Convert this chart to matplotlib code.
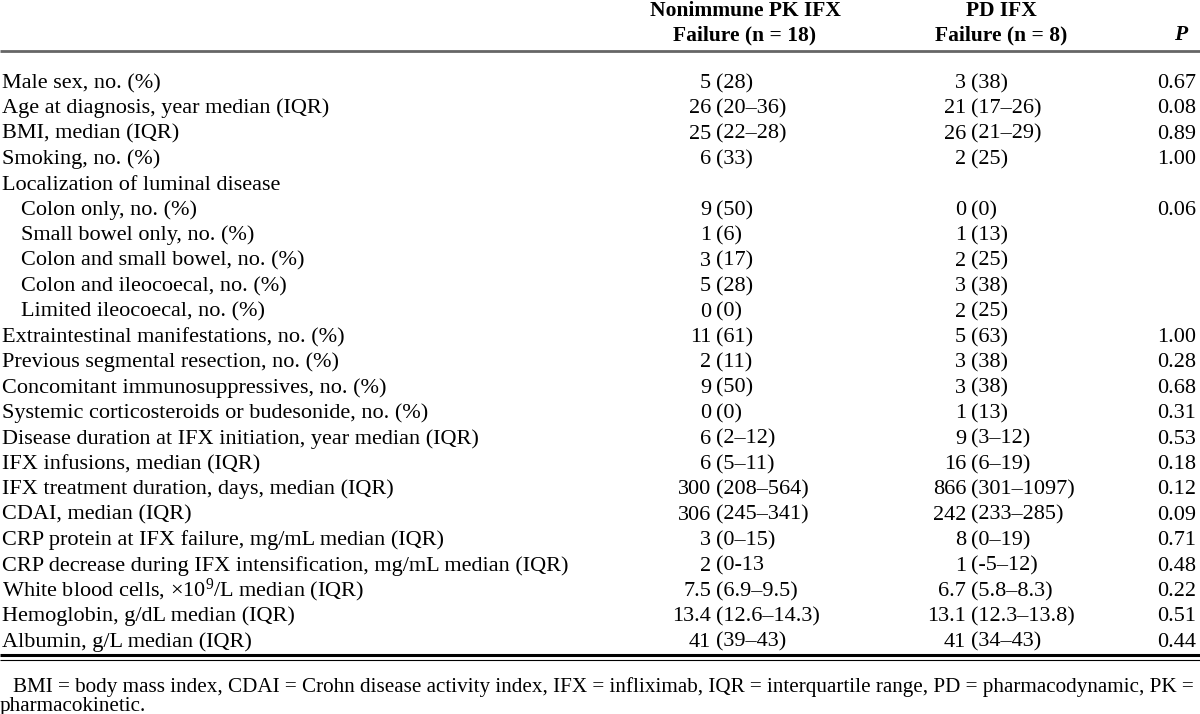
import matplotlib
matplotlib.use("Agg")
import matplotlib.pyplot as plt

plt.rcParams['font.family'] = ['Liberation Serif', 'DejaVu Serif']
plt.rcParams['mathtext.fontset'] = 'custom'
plt.rcParams['mathtext.rm'] = 'Liberation Serif'
plt.rcParams['mathtext.it'] = 'Liberation Serif:italic'

# table content
header_col1 = ["Nonimmune PK IFX", "Failure (n = 18)"]
header_col2 = ["PD IFX", "Failure (n = 8)"]
header_p = "P"

labels = [
    "Male sex, no. (%)",
    "Age at diagnosis, year median (IQR)",
    "BMI, median (IQR)",
    "Smoking, no. (%)",
    "Localization of luminal disease",
    "Colon only, no. (%)",
    "Small bowel only, no. (%)",
    "Colon and small bowel, no. (%)",
    "Colon and ileocoecal, no. (%)",
    "Limited ileocoecal, no. (%)",
    "Extraintestinal manifestations, no. (%)",
    "Previous segmental resection, no. (%)",
    "Concomitant immunosuppressives, no. (%)",
    "Systemic corticosteroids or budesonide, no. (%)",
    "Disease duration at IFX initiation, year median (IQR)",
    "IFX infusions, median (IQR)",
    "IFX treatment duration, days, median (IQR)",
    "CDAI, median (IQR)",
    "CRP protein at IFX failure, mg/mL median (IQR)",
    "CRP decrease during IFX intensification, mg/mL median (IQR)",
    r"White blood cells, $\times$10$^{9}$/L median (IQR)",
    "Hemoglobin, g/dL median (IQR)",
    "Albumin, g/L median (IQR)",
]
indented = [False, False, False, False, False, True, True, True, True, True,
            False, False, False, False, False, False, False, False, False,
            False, False, False, False]

col1 = ["5 (28)", "26 (20–36)", "25 (22–28)", "6 (33)", "",
        "9 (50)", "1 (6)", "3 (17)", "5 (28)", "0 (0)",
        "11 (61)", "2 (11)", "9 (50)", "0 (0)", "6 (2–12)",
        "6 (5–11)", "300 (208–564)", "306 (245–341)", "3 (0–15)", "2 (0-13",
        "7.5 (6.9–9.5)", "13.4 (12.6–14.3)", "41 (39–43)"]
col2 = ["3 (38)", "21 (17–26)", "26 (21–29)", "2 (25)", "",
        "0 (0)", "1 (13)", "2 (25)", "3 (38)", "2 (25)",
        "5 (63)", "3 (38)", "3 (38)", "1 (13)", "9 (3–12)",
        "16 (6–19)", "866 (301–1097)", "242 (233–285)", "8 (0–19)", "1 (-5–12)",
        "6.7 (5.8–8.3)", "13.1 (12.3–13.8)", "41 (34–43)"]
pvals = ["0.67", "0.08", "0.89", "1.00", "",
         "0.06", "", "", "", "",
         "1.00", "0.28", "0.68", "0.31", "0.53",
         "0.18", "0.12", "0.09", "0.71", "0.48",
         "0.22", "0.51", "0.44"]

footnote_1 = ("BMI = body mass index, CDAI = Crohn disease activity index, IFX = infliximab, "
              "IQR = interquartile range, PD = pharmacodynamic, PK =")
footnote_2 = "pharmacokinetic."

W, H = 1200, 714
fs = 16
fig = plt.figure(figsize=(12, 7.14), dpi=100)
ax = fig.add_axes([0, 0, 1, 1])
ax.set_xlim(0, W)
ax.set_ylim(H, 0)
ax.axis('off')

# header
c1x, c2x, px = 745, 1001, 1196
for i, (a, b) in enumerate(zip(header_col1, header_col2)):
    yb = 16 + i * 24
    ax.text(c1x, yb, a, ha='center', va='baseline', fontsize=15.5, fontweight='bold')
    ax.text(c2x, yb, b, ha='center', va='baseline', fontsize=15.5, fontweight='bold')
ax.text(px - 9, 40, header_p, ha='right', va='baseline', fontsize=15.5,
        fontweight='bold', fontstyle='italic')

ax.plot([0, W], [51, 51], color='#666666', lw=2.0, solid_capstyle='butt')

# body rows
a1, a2 = 716, 971
gap = 5
y0, dy = 88, 25.4
for i, lab in enumerate(labels):
    yb = y0 + i * dy
    ax.text(21 if indented[i] else 2, yb, lab, ha='left', va='baseline', fontsize=fs)
    for val, anchor in ((col1[i], a1), (col2[i], a2)):
        if not val:
            continue
        num, rest = val.split(" ", 1)
        ax.text(anchor - gap, yb, num, ha='right', va='baseline', fontsize=fs)
        ax.text(anchor, yb, rest, ha='left', va='baseline', fontsize=fs)
    if pvals[i]:
        ax.text(px, yb, pvals[i], ha='right', va='baseline', fontsize=fs)

# bottom double rule
ax.plot([0, W], [655, 655], color='black', lw=2.2, solid_capstyle='butt')
ax.plot([0, W], [659.5, 659.5], color='black', lw=0.8, solid_capstyle='butt')

# footnote: size the first line so it spans the full width
renderer = fig.canvas.get_renderer()
left, right = 13, 1197
fn = ax.text(left, 692, footnote_1, ha='left', va='baseline', fontsize=15)
wid = fn.get_window_extent(renderer).width
ffs = 15 * (right - left) / wid
fn.set_fontsize(ffs)
ax.text(0, 711, footnote_2, ha='left', va='baseline', fontsize=ffs)

fig.savefig("out.png", dpi=100)
